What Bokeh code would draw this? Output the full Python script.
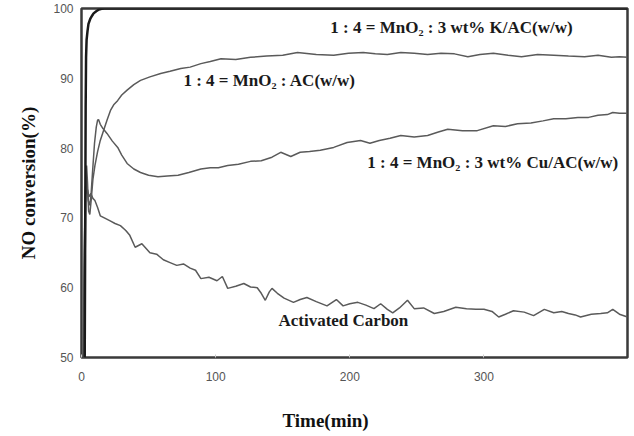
from bokeh.plotting import figure
from bokeh.models import Range1d, FixedTicker, Label, Title
from bokeh.embed import file_html
from bokeh.resources import INLINE

# ---- data ----
t_k = [2.4, 2.8, 3.1, 3.4, 3.8, 4.5, 5.2, 6.5, 8.0, 9.0, 11.0, 13.0, 15.0, 17.0, 50, 100, 200, 300, 407]
v_k = [50.0, 70.0, 86.0, 93.0, 95.5, 96.8, 97.8, 98.5, 99.0, 99.3, 99.6, 99.85, 99.95, 100.0, 100.0, 100.0, 100.0, 100.0, 100.0]

t_ac_mn = [2.0, 2.6, 3.2, 3.8, 4.5, 5.3, 6.2, 7.2, 8.5, 10.0, 12.0, 14.0, 16.4, 19.0, 21.6, 24.0, 26.9, 30.0,
           34.0, 39.0, 44.0, 51.0, 59.0, 66.0, 74.0, 81.0, 89.0, 96.0, 104.0, 115.0, 126.0, 138.0, 150.0,
           161.0, 175.0, 188.0, 199.0, 210.0, 219.0, 228.0, 238.0, 248.0, 258.0, 268.0, 278.0, 288.0,
           297.0, 307.0, 318.0, 328.0, 340.0, 352.0, 363.0, 375.0, 385.0, 395.0, 401.0, 407.0]
v_ac_mn = [50.0, 62.0, 72.0, 77.5, 75.0, 71.0, 70.5, 72.5, 75.5, 77.5, 79.5, 81.1, 82.5, 84.0, 85.4, 86.2, 86.8, 87.6,
           88.3, 89.1, 89.7, 90.2, 90.7, 91.0, 91.4, 91.6, 92.1, 92.4, 92.8, 92.7, 93.0, 93.2, 93.3,
           93.7, 93.4, 93.3, 93.6, 93.7, 93.5, 93.4, 93.7, 93.6, 93.4, 93.6, 93.5, 93.1,
           93.4, 93.6, 93.3, 93.1, 93.4, 93.3, 93.2, 93.1, 93.3, 93.0, 93.1, 93.0]

t_cu = [1.4, 2.0, 2.7, 3.4, 4.2, 5.0, 6.0, 7.0, 8.2, 9.7, 11.0, 12.0, 12.7, 14.0, 16.0, 19.0, 23.0, 27.0,
        30.0, 34.0, 39.0, 44.0, 50.0, 57.0, 64.0, 72.0, 80.0, 89.0, 96.0, 102.0, 109.0, 117.0, 126.0,
        134.0, 142.0, 148.5, 156.0, 163.0, 170.0, 178.0, 188.0, 198.0, 208.0, 215.0, 222.0, 230.0, 238.0,
        248.0, 258.0, 266.0, 273.0, 284.0, 295.0, 307.0, 316.0, 325.0, 335.0, 344.0, 352.0, 361.0, 370.0,
        378.0, 385.0, 392.0, 396.0, 401.0, 407.0]
v_cu = [50.0, 63.0, 72.0, 76.0, 74.5, 72.5, 71.8, 73.0, 76.5, 80.7, 83.0, 84.0, 84.1, 83.4, 82.8, 82.1, 81.0, 80.1,
        79.0, 77.8, 77.0, 76.5, 76.1, 75.9, 76.0, 76.1, 76.5, 77.0, 77.2, 77.2, 77.5, 77.7, 78.1,
        78.2, 78.7, 79.4, 78.8, 79.4, 79.5, 79.7, 80.1, 80.8, 81.1, 80.7, 81.1, 81.4, 81.8,
        81.6, 81.8, 82.3, 82.7, 82.5, 82.5, 83.2, 83.1, 83.5, 83.6, 83.9, 84.2, 84.2, 84.4,
        84.4, 84.7, 84.8, 85.1, 85.0, 85.0]

t_ac = [1.2, 1.8, 2.4, 3.0, 3.6, 4.5, 5.5, 7.0, 8.5, 10.0, 12.0, 14.0, 17.0, 21.0, 25.0, 29.0, 33.0,
        36.0, 40.0, 45.0, 51.0, 56.0, 61.0, 66.0, 71.0, 76.0, 81.0, 85.0, 89.0, 95.0, 101.0, 105.0,
        109.0, 115.0, 121.0, 126.0, 131.0, 134.0, 137.0, 140.0, 142.0, 146.0, 151.0, 158.0, 163.0,
        168.0, 175.0, 183.0, 190.0, 195.0, 200.0, 206.0, 212.0, 218.0, 223.0, 228.0, 232.0, 237.0,
        243.0, 248.0, 255.0, 263.0, 270.0, 279.0, 287.0, 294.0, 300.0, 306.0, 311.0, 316.0, 322.0,
        330.0, 337.0, 345.0, 352.0, 358.0, 363.0, 368.0, 372.0, 380.0, 387.0, 392.0, 396.0, 401.0, 407.0]
v_ac = [50.0, 60.0, 70.0, 74.5, 73.5, 74.0, 73.0, 73.5, 72.8, 72.5, 71.5, 70.3, 70.0, 69.6, 69.2, 68.9, 68.2,
        67.5, 65.8, 66.3, 65.0, 64.8, 64.0, 63.6, 63.2, 63.4, 62.8, 62.5, 61.3, 61.5, 61.0, 61.6,
        59.9, 60.2, 60.6, 60.1, 60.0, 59.2, 58.2, 59.4, 59.9, 59.2, 58.5, 57.9, 58.3,
        58.6, 58.0, 57.4, 58.3, 57.4, 57.7, 57.9, 57.5, 57.0, 57.7, 56.9, 56.4, 57.1,
        58.2, 57.0, 57.1, 56.3, 56.6, 57.2, 57.0, 56.9, 56.9, 56.6, 55.8, 56.2, 56.7,
        56.5, 56.0, 56.9, 56.4, 56.6, 56.3, 56.1, 55.8, 56.2, 56.3, 56.4, 56.9, 56.2, 55.8]

x_ticks = [0, 100, 200, 300]
y_ticks = [50, 60, 70, 80, 90, 100]

labels = ["1 : 4 = MnO\u2082 : 3 wt% K/AC(w/w)",
          "1 : 4 = MnO\u2082 : AC(w/w)",
          "1 : 4 = MnO\u2082 : 3 wt% Cu/AC(w/w)",
          "Activated Carbon"]
x_title = "Time(min)"
y_title = "NO conversion(%)"

# ---- figure ----
p = figure(width=634, height=436, output_backend="svg", toolbar_location=None,
           x_range=Range1d(0, 407), y_range=Range1d(50, 100),
           min_border_left=81, min_border_right=7, min_border_top=8, min_border_bottom=79)
p.background_fill_color = "white"
p.border_fill_color = "white"
p.grid.visible = False
p.outline_line_color = "#3a3a3a"
p.outline_line_width = 2.5

gray = "#5a5a5a"
p.line(t_ac, v_ac, line_color=gray, line_width=1.5)
p.line(t_cu, v_cu, line_color=gray, line_width=1.5)
p.line(t_ac_mn, v_ac_mn, line_color=gray, line_width=1.5)
p.line(t_k, v_k, line_color="#1a1a1a", line_width=2.5)

p.xaxis.ticker = FixedTicker(ticks=x_ticks)
p.yaxis.ticker = FixedTicker(ticks=y_ticks)
for ax in (p.xaxis[0], p.yaxis[0]):
    ax.axis_line_color = None
    ax.minor_tick_line_color = None
    ax.major_label_text_font = "Liberation Sans"
    ax.major_label_text_font_size = "12px"
    ax.major_label_text_color = "#555555"
    ax.axis_label_text_font = "Liberation Serif"
    ax.axis_label_text_font_style = "bold"
    ax.axis_label_text_font_size = "19px"
    ax.axis_label_text_color = "#111111"

p.xaxis.major_tick_in = 3
p.xaxis.major_tick_out = 0
p.xaxis.major_tick_line_color = "#cccccc"
p.xaxis.major_label_standoff = 14
# blank spacer label: pushes the x title (below) further down
p.xaxis.axis_label = "\u00a0"
p.xaxis.axis_label_text_font_size = "10px"
p.xaxis.axis_label_standoff = 8

p.yaxis.major_tick_line_color = None
p.yaxis.major_tick_in = 0
p.yaxis.major_tick_out = 0
p.yaxis.major_label_standoff = 8
p.yaxis.axis_label = y_title
p.yaxis.axis_label_standoff = 11

# x-axis title (sits left of the frame centre in the reference)
p.add_layout(Title(text=x_title, align="left", offset=201, standoff=4,
                   text_font="Liberation Serif", text_font_style="bold",
                   text_font_size="19px", text_color="#111111"), "below")

label_pos = [(185.5, 97.3), (76.0, 89.7), (213.0, 77.9), (146.8, 55.3)]
for txt, (lx, ly) in zip(labels, label_pos):
    p.add_layout(Label(x=lx, y=ly, text=txt, text_font="Liberation Serif",
                       text_font_style="bold", text_font_size="17px",
                       text_color="#1a1a1a", text_baseline="middle", text_align="left"))

open("out.html", "w").write(file_html(p, INLINE))
